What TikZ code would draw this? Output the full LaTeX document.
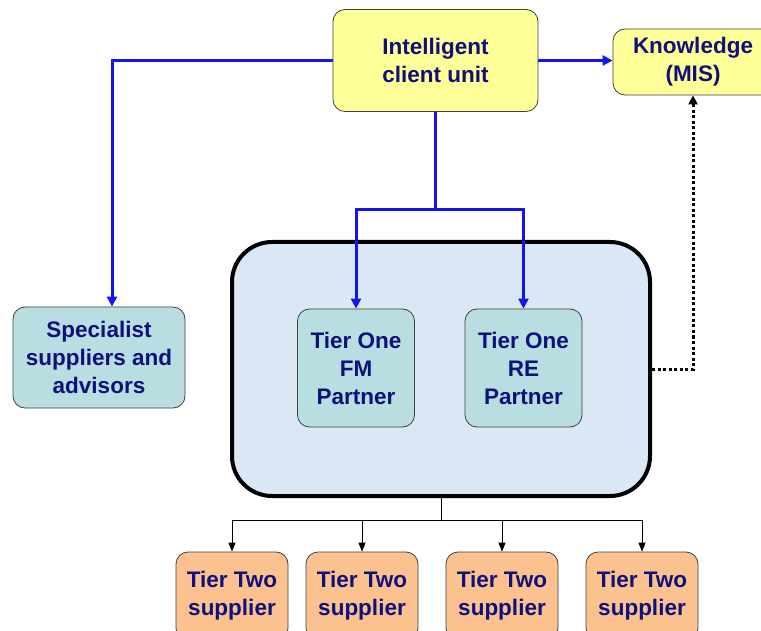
\documentclass[tikz,border=0pt]{standalone}
\usepackage{fontspec}
\setmainfont{Liberation Sans}
\usepackage{tikz}
\usetikzlibrary{arrows.meta}

\definecolor{navytext}{HTML}{10107A}
\definecolor{clientyellow}{HTML}{FFFF99}
\definecolor{partnerteal}{HTML}{B8DEE2}
\definecolor{supplierpeach}{HTML}{FBC290}
\definecolor{grouppale}{HTML}{DAE7F4}
\definecolor{linkblue}{HTML}{1414F0}

\tikzset{
    box/.style={draw=black!75, line width=0.8pt, rounded corners=12pt,
        inner sep=0pt, align=center, text=navytext,
        font=\bfseries\fontsize{22.5}{28}\selectfont},
    link/.style={draw=linkblue, line width=3pt,
        -{Triangle[length=10pt,width=10pt]}},
    tree/.style={draw=black, line width=1pt,
        -{Triangle[length=9pt,width=7pt]}}
}

\begin{document}
\begin{tikzpicture}[x=1pt, y=-1pt]
            \clip (0, 0) rectangle (761, 631);
            \fill[white] (0, 0) rectangle (761, 631);

            \node[draw=black, line width=4pt, rounded corners=40pt, fill=grouppale,
                minimum width=418pt, minimum height=254pt] (group) at (441, 369) {};

            \node[box, fill=clientyellow, minimum width=205pt, minimum height=102pt]
                (client) at (435.5, 60.5) {Intelligent\\client unit};
            \node[box, fill=clientyellow, minimum width=160pt, minimum height=66pt]
                (know) at (693, 62) {Knowledge\\(MIS)};
            \node[box, fill=partnerteal, minimum width=172pt, minimum height=101pt]
                (spec) at (99, 357.5) {Specialist\\suppliers and\\advisors};
            \node[box, fill=partnerteal, minimum width=117pt, minimum height=118pt]
                (fm) at (356, 368) {Tier One\\FM\\Partner};
            \node[box, fill=partnerteal, minimum width=117pt, minimum height=118pt]
                (re) at (523.5, 368) {Tier One\\RE\\Partner};

            \foreach \x [count=\i] in {232, 362, 502, 642}
                \node[box, fill=supplierpeach, minimum width=112pt, minimum height=88pt]
                    (two\i) at (\x, 596) {Tier Two\\supplier};

            \coordinate (split) at (435.5, 210);
            \coordinate (fork) at (441, 520);

            \draw[link] (client.east) -- (client.east -| know.west);
            \draw[link] (client.west) -| ([xshift=13pt]spec.north);
            \draw[link] (client.south) -- (split) -| (fm.north);
            \draw[link] (split) -| (re.north);

            \draw[line width=3pt, dash pattern=on 3pt off 2.5pt,
                -{Triangle[length=9pt,width=9pt]}] (group.east) -| (know.south);

            \draw[line width=1pt] (group.south) -- (fork);
            \foreach \i in {1,...,4}
                \draw[tree] (fork) -| (two\i.north);
        \end{tikzpicture}
\end{document}
